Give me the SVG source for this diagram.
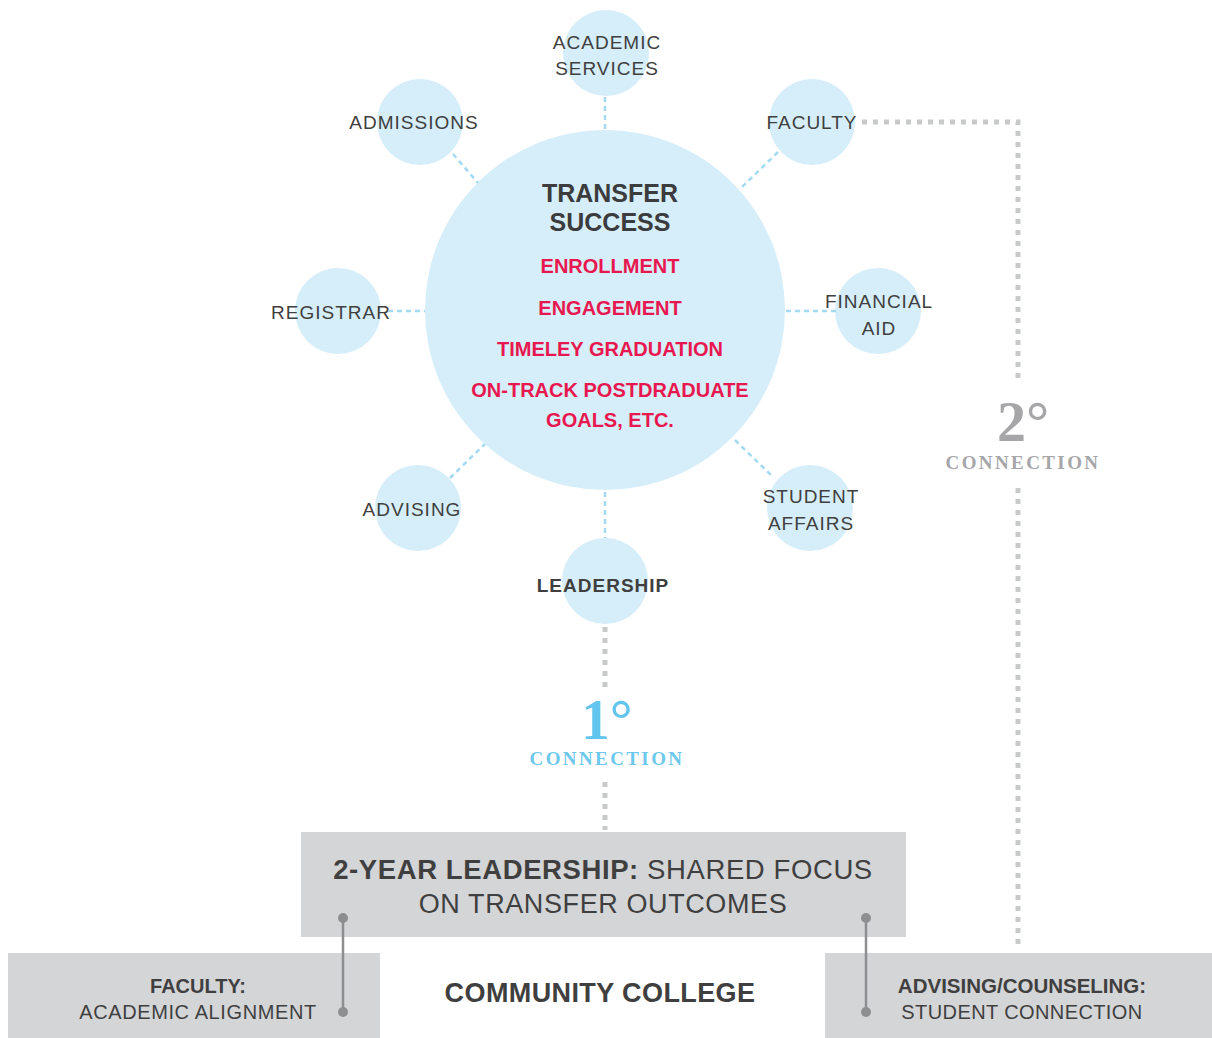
<svg xmlns="http://www.w3.org/2000/svg" width="1212" height="1038" viewBox="0 0 1212 1038">
<style>
.c{fill:#d6eef9}
.lbl{font-family:"Liberation Sans",Arial,sans-serif;font-size:19px;fill:#3f3f40;text-anchor:middle;letter-spacing:1px}
.b{font-weight:bold}
.red{font-family:"Liberation Sans",Arial,sans-serif;font-size:20px;font-weight:bold;fill:#e8174f;text-anchor:middle}
.ttl{font-family:"Liberation Sans",Arial,sans-serif;font-size:25px;font-weight:bold;fill:#3c3c3e;text-anchor:middle}
.bl{stroke:#a3daf2;stroke-width:2.5;stroke-dasharray:5 4;fill:none}
.gr{stroke:#c8c9ca;stroke-width:5;stroke-dasharray:5 6;fill:none}
.box{fill:#d4d5d7}
.bt{font-family:"Liberation Sans",Arial,sans-serif;fill:#3f3f40;text-anchor:middle}
.deg{font-family:"Liberation Serif","Times New Roman",serif;font-weight:bold;text-anchor:middle}
.conn{font-family:"Liberation Serif","Times New Roman",serif;font-size:19px;font-weight:bold;text-anchor:middle;letter-spacing:2.4px}
.pin{stroke:#8d8e90;stroke-width:2.5}
.dot{fill:#8d8e90}
</style>
<g id="center">
<circle class="c" cx="605" cy="310" r="180"/>
<text class="ttl" x="610" y="202">TRANSFER</text>
<text class="ttl" x="610" y="231">SUCCESS</text>
<text class="red" x="610" y="273">ENROLLMENT</text>
<text class="red" x="610" y="315">ENGAGEMENT</text>
<text class="red" x="610" y="356">TIMELEY GRADUATION</text>
<text class="red" x="610" y="397">ON-TRACK POSTDRADUATE</text>
<text class="red" x="610" y="427">GOALS, ETC.</text>
</g>
<g id="academic-services"><circle class="c" cx="606" cy="53" r="43"/><text class="lbl" x="607" y="49">ACADEMIC</text><text class="lbl" x="607" y="75">SERVICES</text></g>
<g id="admissions"><circle class="c" cx="420" cy="122" r="43"/><text class="lbl" x="414" y="129">ADMISSIONS</text></g>
<g id="faculty"><circle class="c" cx="812" cy="122" r="43"/><text class="lbl" x="812" y="129">FACULTY</text></g>
<g id="registrar"><circle class="c" cx="338" cy="311" r="43"/><text class="lbl" x="331" y="319">REGISTRAR</text></g>
<g id="financial-aid"><circle class="c" cx="878" cy="311" r="43"/><text class="lbl" x="879" y="308">FINANCIAL</text><text class="lbl" x="879" y="335">AID</text></g>
<g id="advising"><circle class="c" cx="418" cy="508" r="43"/><text class="lbl" x="412" y="516">ADVISING</text></g>
<g id="student-affairs"><circle class="c" cx="810" cy="508" r="43"/><text class="lbl" x="811" y="503">STUDENT</text><text class="lbl" x="811" y="530">AFFAIRS</text></g>
<g id="leadership"><circle class="c" cx="605" cy="581" r="43"/><text class="lbl b" x="603" y="592">LEADERSHIP</text></g>
<g id="first-degree"><text class="deg" x="607" y="739" font-size="57" fill="#62c5ee">1°</text><text class="conn" x="607" y="765" fill="#6cc8ec">CONNECTION</text></g>
<g id="second-degree"><text class="deg" x="1023" y="441" font-size="58" fill="#a6a6a8">2°</text><text class="conn" x="1023" y="469" fill="#a6a6a8">CONNECTION</text></g>
<g id="two-year-leadership"><rect class="box" x="301" y="832" width="605" height="105"/><text class="bt" x="603" y="879" font-size="27.5" letter-spacing="0.6"><tspan font-weight="bold">2-YEAR LEADERSHIP:</tspan> SHARED FOCUS</text><text class="bt" x="603" y="913" font-size="27" letter-spacing="0.6">ON TRANSFER OUTCOMES</text></g>
<g id="faculty-box"><rect class="box" x="8" y="953" width="372" height="85"/><text class="bt b" x="198" y="993" font-size="20">FACULTY:</text><text class="bt" x="198" y="1019" font-size="20" letter-spacing="0.6">ACADEMIC ALIGNMENT</text></g>
<g id="advising-box"><rect class="box" x="825" y="953" width="387" height="85"/><text class="bt b" x="1022" y="993" font-size="20.5">ADVISING/COUNSELING:</text><text class="bt" x="1022" y="1019" font-size="20" letter-spacing="0.4">STUDENT CONNECTION</text></g>
<g id="community-college"><text class="bt b" x="600" y="1002" font-size="27" fill="#58595b" letter-spacing="0.4">COMMUNITY COLLEGE</text></g>
<g id="connectors">
<line class="bl" x1="605" y1="97" x2="605" y2="130"/>
<line class="bl" x1="453" y1="154" x2="478" y2="183"/>
<line class="bl" x1="778" y1="152" x2="740" y2="189"/>
<line class="bl" x1="388" y1="311" x2="425" y2="311"/>
<line class="bl" x1="786" y1="311" x2="836" y2="311"/>
<line class="bl" x1="450" y1="478" x2="485" y2="444"/>
<line class="bl" x1="735" y1="440" x2="773" y2="477"/>
<line class="bl" x1="605" y1="492" x2="605" y2="538"/>
<path class="gr" d="M605 627 V690"/>
<path class="gr" d="M605 782 V830"/>
<path class="gr" d="M862 122 H1018 V380"/>
<path class="gr" d="M1018 488 V948"/>
<line class="pin" x1="343" y1="918" x2="343" y2="1012"/>
<circle class="dot" cx="343" cy="918" r="5"/>
<circle class="dot" cx="343" cy="1012" r="5"/>
<line class="pin" x1="866" y1="918" x2="866" y2="1012"/>
<circle class="dot" cx="866" cy="918" r="5"/>
<circle class="dot" cx="866" cy="1012" r="5"/>
</g>
</svg>
